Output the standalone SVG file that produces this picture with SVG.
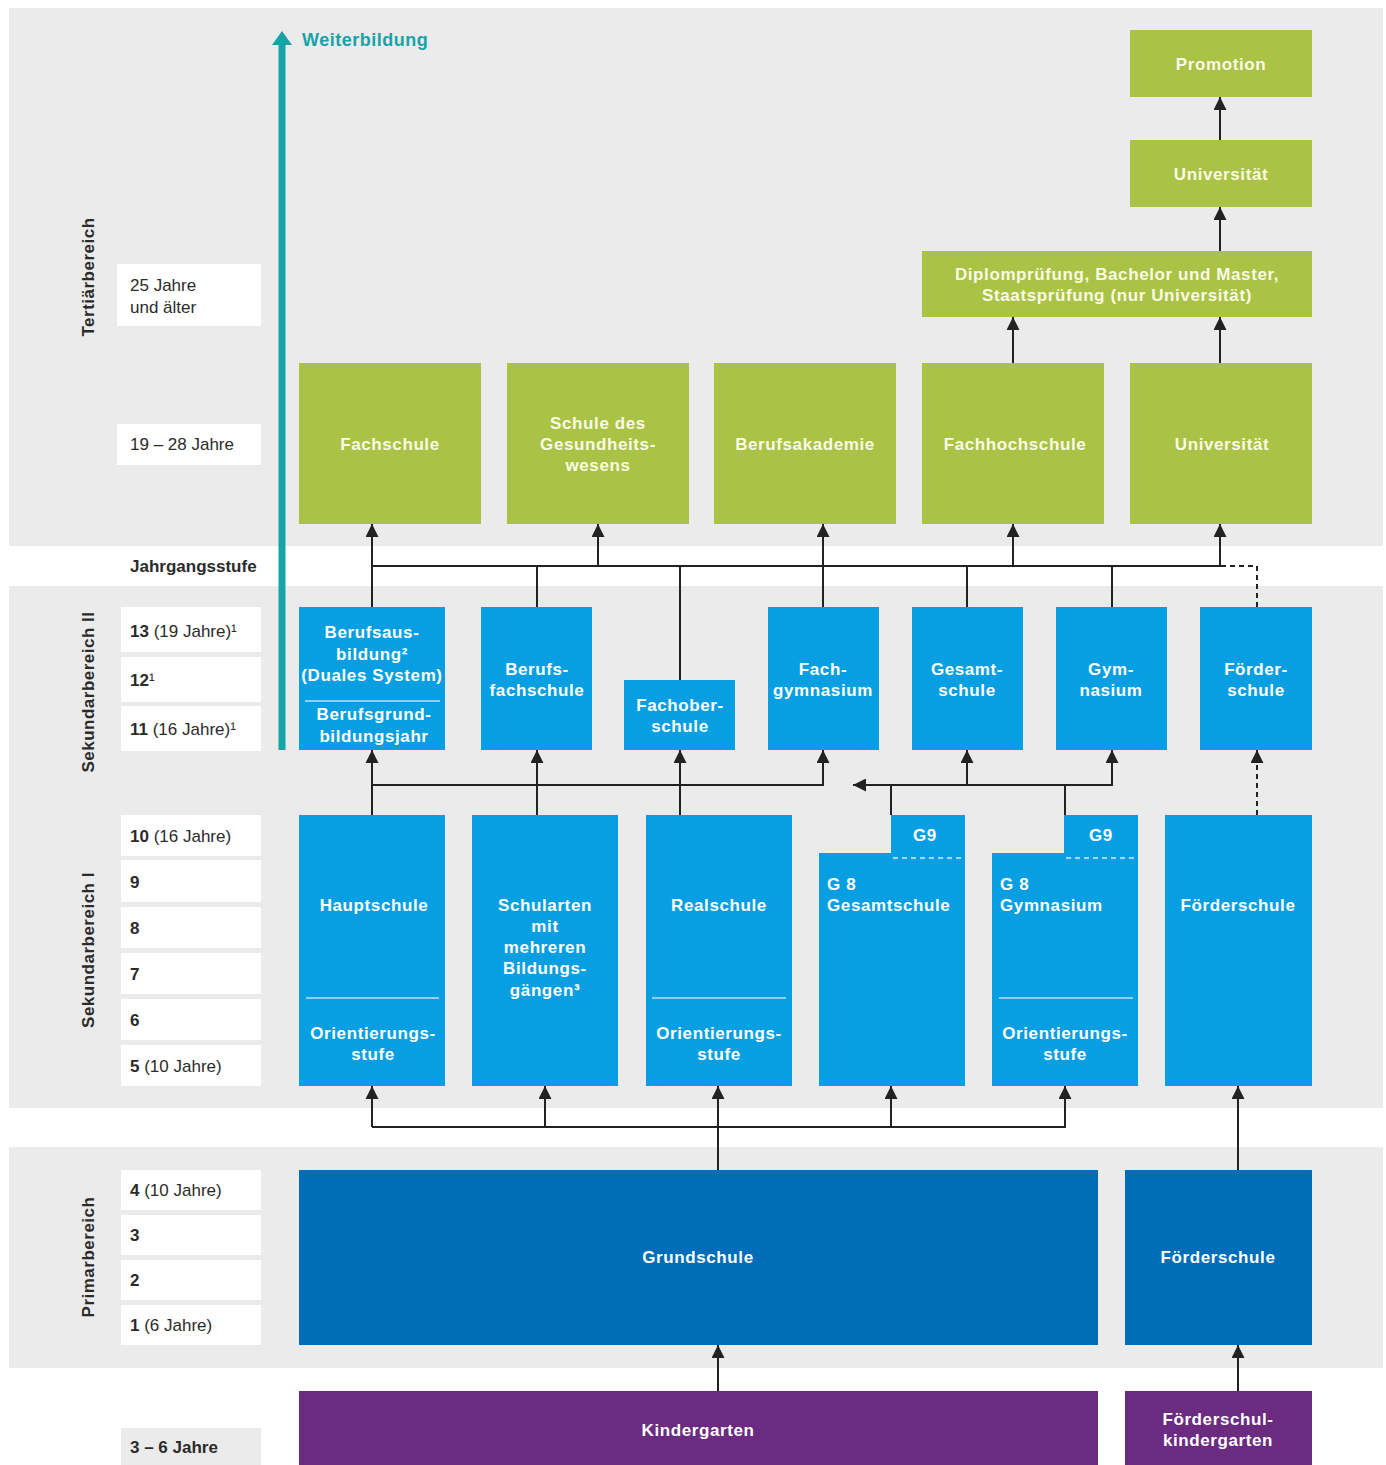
<svg xmlns="http://www.w3.org/2000/svg" width="1386" height="1465" viewBox="0 0 1386 1465">
<style>
.band{fill:#ebebeb}
.lbl{fill:#ffffff}
.lt{font-family:"Liberation Sans",Arial,sans-serif;font-size:17px;fill:#2b2b2b}
.lt b,.bd{font-weight:bold}
.area{font-family:"Liberation Sans",Arial,sans-serif;font-size:17px;font-weight:bold;fill:#2b2b2b;letter-spacing:0.5px;text-anchor:middle}
.g{fill:#aac245}
.b{fill:#079fe1}
.d{fill:#006db8}
.p{fill:#6b2b80}
.t{font-family:"Liberation Sans",Arial,sans-serif;font-size:17px;font-weight:bold;letter-spacing:0.6px;text-anchor:middle;fill:#ffffff}
.tg{fill:#fafbe4}
.tl{text-anchor:start}
.sep{stroke:#b9e2f7;stroke-width:1.5;fill:none}
.sepd{stroke:#d6eefb;stroke-width:1.5;stroke-dasharray:5,4;fill:none}
.c{stroke:#222;stroke-width:2;fill:none}
.cd{stroke:#222;stroke-width:2;fill:none;stroke-dasharray:5,4}
.ca{marker-end:url(#ah)}
</style>
<defs>
<marker id="ah" viewBox="0 0 12 12" markerWidth="13" markerHeight="13" refX="12" refY="6" orient="auto" markerUnits="userSpaceOnUse">
<path d="M0,0 L12,6 L0,12 z" fill="#222"/>
</marker>
</defs>

<g id="backgrounds">
<rect class="band" x="9" y="8" width="1374" height="538"/>
<rect class="band" x="9" y="586" width="1374" height="522"/>
<rect class="band" x="9" y="1147" width="1374" height="221"/>
</g>

<g id="age-labels">
<text class="area" transform="translate(94,277) rotate(-90)">Tertiärbereich</text>
<text class="area" transform="translate(94,692) rotate(-90)">Sekundarbereich II</text>
<text class="area" transform="translate(94,950) rotate(-90)">Sekundarbereich I</text>
<text class="area" transform="translate(94,1257) rotate(-90)">Primarbereich</text>

<rect class="lbl" x="117" y="264" width="144" height="62"/>
<text class="lt" x="130" y="291">25 Jahre</text>
<text class="lt" x="130" y="313">und älter</text>
<rect class="lbl" x="117" y="424" width="144" height="41"/>
<text class="lt" x="130" y="450">19 – 28 Jahre</text>

<text class="lt bd" x="130" y="572">Jahrgangsstufe</text>

<rect class="lbl" x="121" y="607" width="140" height="45"/>
<text class="lt" x="130" y="637"><tspan class="bd">13</tspan> (19 Jahre)¹</text>
<rect class="lbl" x="121" y="657" width="140" height="45"/>
<text class="lt" x="130" y="686"><tspan class="bd">12</tspan>¹</text>
<rect class="lbl" x="121" y="706" width="140" height="45"/>
<text class="lt" x="130" y="735"><tspan class="bd">11</tspan> (16 Jahre)¹</text>

<rect class="lbl" x="121" y="815" width="140" height="41"/>
<text class="lt" x="130" y="842"><tspan class="bd">10</tspan> (16 Jahre)</text>
<rect class="lbl" x="121" y="860" width="140" height="42"/>
<text class="lt bd" x="130" y="888">9</text>
<rect class="lbl" x="121" y="907" width="140" height="41"/>
<text class="lt bd" x="130" y="934">8</text>
<rect class="lbl" x="121" y="953" width="140" height="41"/>
<text class="lt bd" x="130" y="980">7</text>
<rect class="lbl" x="121" y="999" width="140" height="41"/>
<text class="lt bd" x="130" y="1026">6</text>
<rect class="lbl" x="121" y="1045" width="140" height="41"/>
<text class="lt" x="130" y="1072"><tspan class="bd">5</tspan> (10 Jahre)</text>

<rect class="lbl" x="121" y="1170" width="140" height="40"/>
<text class="lt" x="130" y="1196"><tspan class="bd">4</tspan> (10 Jahre)</text>
<rect class="lbl" x="121" y="1215" width="140" height="40"/>
<text class="lt bd" x="130" y="1241">3</text>
<rect class="lbl" x="121" y="1260" width="140" height="40"/>
<text class="lt bd" x="130" y="1286">2</text>
<rect class="lbl" x="121" y="1305" width="140" height="40"/>
<text class="lt" x="130" y="1331"><tspan class="bd">1</tspan> (6 Jahre)</text>

<rect class="band" x="121" y="1428" width="140" height="37"/>
<text class="lt bd" x="130" y="1453">3 – 6 Jahre</text>
</g>

<g id="connectors">
<line x1="282" y1="750" x2="282" y2="42" stroke="#17a3a8" stroke-width="7"/>
<polygon points="272,45 282,31 292,45" fill="#17a3a8"/>
<path class="c ca" d="M1220,140 V97"/>
<path class="c ca" d="M1220,251 V207"/>
<path class="c ca" d="M1013,363 V317"/>
<path class="c ca" d="M1220,363 V317"/>
<path class="c ca" d="M372,607 V524"/>
<path class="c ca" d="M372,566 H1220 V524"/>
<path class="c ca" d="M598,566 V524"/>
<path class="c ca" d="M823,607 V524"/>
<path class="c ca" d="M1013,566 V524"/>
<path class="c" d="M537,607 V566"/>
<path class="c" d="M680,680 V566"/>
<path class="c" d="M967,607 V566"/>
<path class="c" d="M1112,607 V566"/>
<path class="cd" d="M1221,566 H1257 V607"/>
<path class="c ca" d="M372,815 V750"/>
<path class="c ca" d="M372,785 H823 V750"/>
<path class="c ca" d="M537,815 V750"/>
<path class="c ca" d="M680,815 V750"/>
<path class="c ca" d="M891,815 V785 H853"/>
<path class="c ca" d="M891,785 H1112 V750"/>
<path class="c ca" d="M967,785 V750"/>
<path class="c" d="M1065,815 V785"/>
<path class="cd ca" d="M1257,815 V750"/>
<path class="c ca" d="M718,1170 V1086"/>
<path class="c ca" d="M372,1127 H1065 V1086"/>
<path class="c ca" d="M372,1127 V1086"/>
<path class="c ca" d="M545,1127 V1086"/>
<path class="c ca" d="M891,1127 V1086"/>
<path class="c ca" d="M1238,1170 V1086"/>
<path class="c ca" d="M718,1391 V1345"/>
<path class="c ca" d="M1238,1391 V1345"/>
</g>

<g id="weiterbildung">
<text x="302" y="46" font-family="'Liberation Sans',Arial,sans-serif" font-size="18" font-weight="bold" letter-spacing="0.5" fill="#17a3a8">Weiterbildung</text>
</g>

<g id="promotion"><rect class="g" x="1130" y="30" width="182" height="67"/><text class="t tg" x="1221" y="70">Promotion</text></g>
<g id="universitaet-oben"><rect class="g" x="1130" y="140" width="182" height="67"/><text class="t tg" x="1221" y="180">Universität</text></g>
<g id="diplom"><rect class="g" x="922" y="251" width="390" height="66"/><text class="t tg" x="1117" y="280">Diplomprüfung, Bachelor und Master,</text><text class="t tg" x="1117" y="301">Staatsprüfung (nur Universität)</text></g>
<g id="fachschule"><rect class="g" x="299" y="363" width="182" height="161"/><text class="t tg" x="390" y="450">Fachschule</text></g>
<g id="gesundheitswesen"><rect class="g" x="507" y="363" width="182" height="161"/><text class="t tg" x="598" y="429">Schule des</text><text class="t tg" x="598" y="450">Gesundheits-</text><text class="t tg" x="598" y="471">wesens</text></g>
<g id="berufsakademie"><rect class="g" x="714" y="363" width="182" height="161"/><text class="t tg" x="805" y="450">Berufsakademie</text></g>
<g id="fachhochschule"><rect class="g" x="922" y="363" width="182" height="161"/><text class="t tg" x="1015" y="450">Fachhochschule</text></g>
<g id="universitaet"><rect class="g" x="1130" y="363" width="182" height="161"/><text class="t tg" x="1222" y="450">Universität</text></g>

<g id="berufsausbildung"><rect class="b" x="299" y="607" width="146" height="143"/>
<text class="t" x="372" y="638">Berufsaus-</text><text class="t" x="372" y="660">bildung²</text><text class="t" x="372" y="681">(Duales System)</text>
<line class="sep" x1="305" y1="701" x2="440" y2="701"/>
<text class="t" x="374" y="720">Berufsgrund-</text><text class="t" x="374" y="742">bildungsjahr</text></g>
<g id="berufsfachschule"><rect class="b" x="481" y="607" width="111" height="143"/><text class="t" x="537" y="675">Berufs-</text><text class="t" x="537" y="696">fachschule</text></g>
<g id="fachoberschule"><rect class="b" x="624" y="680" width="111" height="70"/><text class="t" x="680" y="711">Fachober-</text><text class="t" x="680" y="732">schule</text></g>
<g id="fachgymnasium"><rect class="b" x="768" y="607" width="111" height="143"/><text class="t" x="823" y="675">Fach-</text><text class="t" x="823" y="696">gymnasium</text></g>
<g id="gesamtschule"><rect class="b" x="912" y="607" width="111" height="143"/><text class="t" x="967" y="675">Gesamt-</text><text class="t" x="967" y="696">schule</text></g>
<g id="gymnasium"><rect class="b" x="1056" y="607" width="111" height="143"/><text class="t" x="1111" y="675">Gym-</text><text class="t" x="1111" y="696">nasium</text></g>
<g id="foerderschule-sek2"><rect class="b" x="1200" y="607" width="112" height="143"/><text class="t" x="1256" y="675">Förder-</text><text class="t" x="1256" y="696">schule</text></g>

<g id="hauptschule"><rect class="b" x="299" y="815" width="146" height="271"/><text class="t" x="374" y="911">Hauptschule</text>
<line class="sep" x1="306" y1="998" x2="439" y2="998"/><text class="t" x="373" y="1039">Orientierungs-</text><text class="t" x="373" y="1060">stufe</text></g>
<g id="schularten"><rect class="b" x="472" y="815" width="146" height="271"/><text class="t" x="545" y="911">Schularten</text><text class="t" x="545" y="932">mit</text><text class="t" x="545" y="953">mehreren</text><text class="t" x="545" y="974">Bildungs-</text><text class="t" x="545" y="996">gängen³</text></g>
<g id="realschule"><rect class="b" x="646" y="815" width="146" height="271"/><text class="t" x="719" y="911">Realschule</text>
<line class="sep" x1="652" y1="998" x2="786" y2="998"/><text class="t" x="719" y="1039">Orientierungs-</text><text class="t" x="719" y="1060">stufe</text></g>
<g id="g8-gesamtschule"><path class="b" d="M891,815 H965 V1086 H819 V853 H891 Z"/><text class="t" x="925" y="841">G9</text>
<line class="sepd" x1="893" y1="858" x2="962" y2="858"/><text class="t tl" x="827" y="890">G 8</text><text class="t tl" x="827" y="911">Gesamtschule</text></g>
<g id="g8-gymnasium"><path class="b" d="M1064,815 H1138 V1086 H992 V853 H1064 Z"/><text class="t" x="1101" y="841">G9</text>
<line class="sepd" x1="1066" y1="858" x2="1135" y2="858"/><text class="t tl" x="1000" y="890">G 8</text><text class="t tl" x="1000" y="911">Gymnasium</text>
<line class="sep" x1="999" y1="998" x2="1133" y2="998"/><text class="t" x="1065" y="1039">Orientierungs-</text><text class="t" x="1065" y="1060">stufe</text></g>
<g id="foerderschule-sek1"><rect class="b" x="1165" y="815" width="147" height="271"/><text class="t" x="1238" y="911">Förderschule</text></g>

<g id="grundschule"><rect class="d" x="299" y="1170" width="799" height="175"/><text class="t" x="698" y="1263">Grundschule</text></g>
<g id="foerderschule-primar"><rect class="d" x="1125" y="1170" width="187" height="175"/><text class="t" x="1218" y="1263">Förderschule</text></g>
<g id="kindergarten"><rect class="p" x="299" y="1391" width="799" height="74"/><text class="t" x="698" y="1436">Kindergarten</text></g>
<g id="foerderschulkindergarten"><rect class="p" x="1125" y="1391" width="187" height="74"/><text class="t" x="1218" y="1425">Förderschul-</text><text class="t" x="1218" y="1446">kindergarten</text></g>
</svg>
